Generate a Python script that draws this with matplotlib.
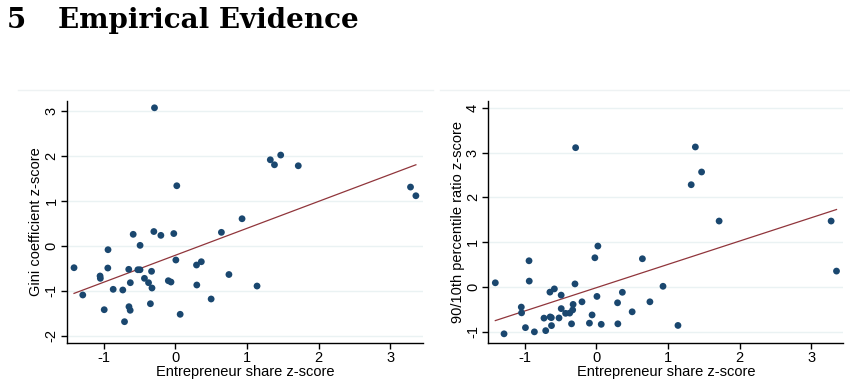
import numpy as np
import matplotlib
matplotlib.use("Agg")
import matplotlib.pyplot as plt
from matplotlib.lines import Line2D

# Data: entrepreneur share z-score (x) and two inequality z-scores
ent_share = [-1.412, -1.290, -1.049, -1.045, -0.991, -0.941, -0.938, -0.866, -0.732, -0.708,
             -0.649, -0.646, -0.629, -0.627, -0.587, -0.522, -0.492, -0.491, -0.430, -0.373,
             -0.347, -0.331, -0.325, -0.299, -0.290, -0.201, -0.097, -0.060, -0.021, 0.008,
             0.021, 0.068, 0.296, 0.300, 0.363, 0.500, 0.643, 0.748, 0.931, 1.140,
             1.325, 1.383, 1.470, 1.715, 3.280, 3.355]
gini = [-0.484, -1.090, -0.668, -0.720, -1.417, -0.491, -0.084, -0.964, -0.979, -1.683,
        -0.520, -1.350, -1.430, -0.817, 0.258, -0.529, -0.529, 0.013, -0.720, -0.817,
        -1.284, -0.564, -0.935, 0.320, 3.069, 0.235, -0.773, -0.802, 0.275, -0.313,
        1.337, -1.519, -0.424, -0.868, -0.351, -1.179, 0.302, -0.635, 0.604, -0.891,
        1.914, 1.803, 2.019, 1.781, 1.308, 1.115]
ratio_90_10 = [0.096, -1.042, -0.446, -0.574, -0.904, 0.587, 0.134, -0.998, -0.692, -0.971,
               -0.112, -0.665, -0.681, -0.859, -0.040, -0.688, -0.179, -0.480, -0.585, -0.580,
               -0.819, -0.509, -0.386, 0.071, 3.109, -0.328, -0.804, -0.621, 0.654, -0.208,
               0.915, -0.830, -0.350, -0.819, -0.116, -0.551, 0.632, -0.328, 0.018, -0.855,
               2.283, 3.125, 2.567, 1.473, 1.473, 0.357]

x_ticks = [-1, 0, 1, 2, 3]
gini_ticks = [-2, -1, 0, 1, 2, 3]
ratio_ticks = [-1, 0, 1, 2, 3, 4]

title_num = "5"
title_text = "Empirical Evidence"
x_label = "Entrepreneur share z-score"
gini_label = "Gini coefficient z-score"
ratio_label = "90/10th percentile ratio z-score"

plt.rcParams["axes.unicode_minus"] = False

W, H = 850, 384
fig = plt.figure(figsize=(W / 100, H / 100), dpi=100)
fig.patch.set_facecolor("white")

marker_color = "#1a476f"
line_color = "#90353b"
grid_color = "#eaf2f3"
sans = ["Liberation Sans", "DejaVu Sans"]

fig.text(7 / W, 1 - 20 / H, title_num, family="DejaVu Serif", weight="bold",
         fontsize=20, va="center", ha="left")
fig.text(58 / W, 1 - 20 / H, title_text, family="DejaVu Serif", weight="bold",
         fontsize=20, va="center", ha="left")

# faint outer frame lines at the top of each graph region
for x0, x1 in [(18, 433), (440, 850)]:
    fig.add_artist(Line2D([x0 / W, x1 / W], [1 - 90 / H, 1 - 90 / H],
                          color="#eef2f3", lw=1.0))

def panel(rect, y, yticks, ylim, ylabel):
    ax = fig.add_axes(rect)
    x = np.array(ent_share)
    yv = np.array(y)
    ax.set_xlim(-1.51, 3.45)
    ax.set_ylim(*ylim)
    ax.set_yticks(yticks)
    ax.set_xticks(x_ticks)
    for t in yticks:
        ax.axhline(t, color=grid_color, lw=1.0, zorder=0)
    ax.scatter(x, yv, s=24, color=marker_color, edgecolors="none", zorder=3)
    b, a = np.polyfit(x, yv, 1)
    xs = np.array([x.min(), x.max()])
    ax.plot(xs, a + b * xs, color=line_color, lw=0.9, zorder=2)
    for s in ["top", "right"]:
        ax.spines[s].set_visible(False)
    for s in ["left", "bottom"]:
        ax.spines[s].set_linewidth(1.0)
        ax.spines[s].set_color("black")
    ax.tick_params(direction="out", length=4, width=1.0, labelsize=10.5, pad=2)
    for lab in ax.get_yticklabels():
        lab.set_rotation(90)
        lab.set_va("center")
        lab.set_family(sans)
    for lab in ax.get_xticklabels():
        lab.set_family(sans)
    ax.set_xlabel(x_label, fontsize=10.5, family=sans, labelpad=0)
    ax.set_ylabel(ylabel, fontsize=10.5, family=sans, labelpad=1)
    ax.set_facecolor("white")
    return ax

bottom = (H - 342.7) / H
height = 241.7 / H
panel([67 / W, bottom, 355.7 / W, height], gini, gini_ticks, (-2.15, 3.22), gini_label)
panel([488.3 / W, bottom, 355.0 / W, height], ratio_90_10, ratio_ticks, (-1.24, 4.15), ratio_label)

fig.savefig("out.png", dpi=100, facecolor="white")
